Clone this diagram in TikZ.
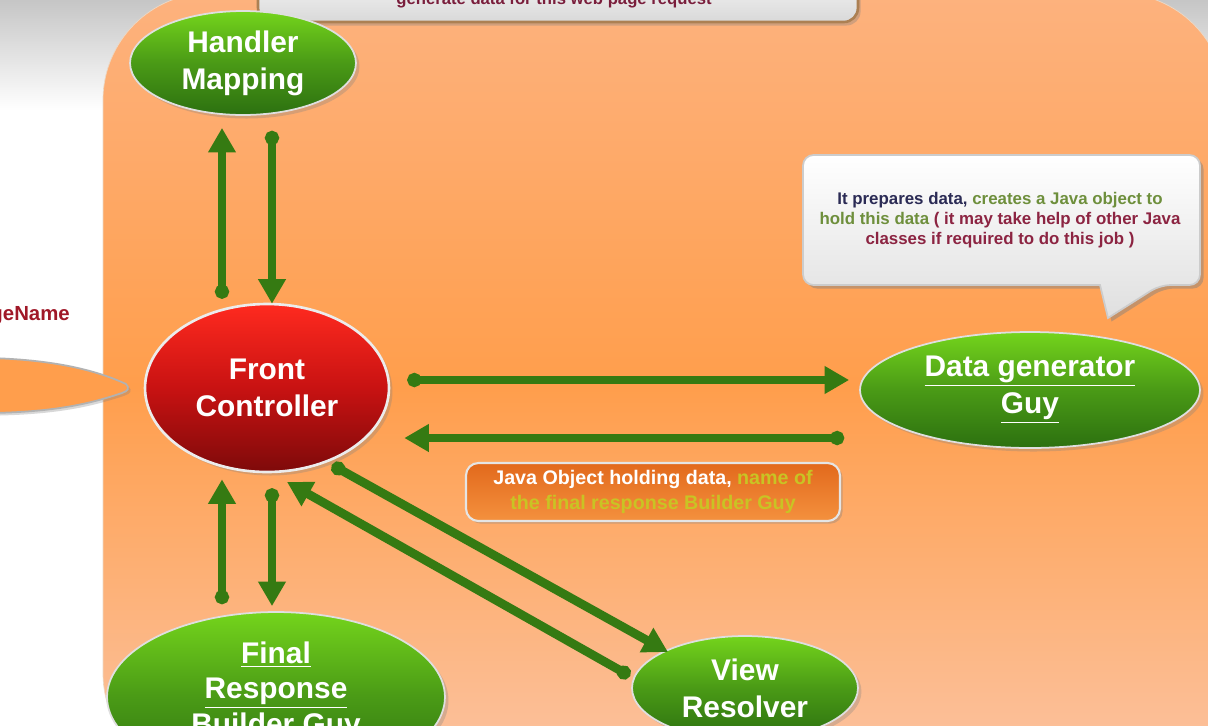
\documentclass[tikz,border=0pt]{standalone}
\usepackage{fontspec}
\setmainfont{Liberation Sans}
\usetikzlibrary{shapes.geometric, arrows.meta, positioning, calc, shadows}
\usepackage{xcolor}
\definecolor{guytop}{HTML}{74D41C}
\definecolor{guymid}{HTML}{4A9A16}
\definecolor{guybot}{HTML}{2C7010}
\definecolor{ctrltop}{HTML}{FF2A1F}
\definecolor{ctrlmid}{HTML}{C81212}
\definecolor{ctrlbot}{HTML}{7E0A0A}
\definecolor{flowgreen}{HTML}{357A12}
\definecolor{paneltop}{HTML}{FDB27E}
\definecolor{panelmid}{HTML}{FF9E4C}
\definecolor{panelbot}{HTML}{FBC4A3}
\definecolor{navytext}{HTML}{2B2B55}
\definecolor{olivetext}{HTML}{6E8F3C}
\definecolor{maroontext}{HTML}{8C2442}
\definecolor{reqtext}{HTML}{7A1E3C}
\definecolor{tagyellow}{HTML}{C9C324}
\definecolor{tagtop}{HTML}{E2691C}
\definecolor{tagbot}{HTML}{F4913E}
\definecolor{pagered}{HTML}{A01828}

\begin{document}
\begin{tikzpicture}[
    x=0.02cm, y=-0.02cm,
    every node/.style={font=\bfseries},
    guy/.style={ellipse, draw=white!75!gray, line width=1pt, inner sep=0pt,
                top color=guytop, bottom color=guybot, middle color=guymid,
                text=white, align=center, font=\fontsize{17}{21}\selectfont\bfseries,
                drop shadow={opacity=0.3, shadow xshift=2pt, shadow yshift=-2pt}},
    ctrl/.style={guy, draw=white!85!gray, line width=1.5pt,
                 top color=ctrltop, bottom color=ctrlbot, middle color=ctrlmid},
    guytxt/.style={text=white, align=center, font=\fontsize{17}{20}\selectfont\bfseries},
    flow/.style={draw=flowgreen, line width=5pt,
                 {Circle[length=8pt]}-{Triangle[length=14pt, width=15pt]}},
    note/.style={align=center, font=\fontsize{9.6}{11.3}\selectfont\bfseries},
    tagbox/.style={draw=white!80!gray, line width=1.2pt, rounded corners=7pt,
                   top color=tagtop, bottom color=tagbot, text=white, align=center,
                   minimum width=7.48cm, minimum height=1.16cm, inner sep=1pt,
                   font=\fontsize{11.2}{14.2}\selectfont\bfseries,
                   drop shadow={opacity=0.35, shadow xshift=1.5pt, shadow yshift=-1.5pt}}
]
    \useasboundingbox (0,0) rectangle (1208,725);
    \clip (0,0) rectangle (1208,725);

    % Backdrop
    \fill[white] (0,0) rectangle (1208,725);
    \shade[top color=gray!45, bottom color=white] (0,0) rectangle (1208,110);
    \shade[top color=paneltop, bottom color=panelbot, middle color=panelmid,
           draw=brown!30, rounded corners=2.14cm] (103,-7) rectangle (1225,780);

    % Request box at the top, cut by the frame
    \node[draw=brown!70!gray, line width=1.5pt, rounded corners=8pt,
          top color=white, bottom color=gray!30, minimum width=12cm, minimum height=1.24cm,
          drop shadow={opacity=0.35, shadow xshift=1.5pt, shadow yshift=-2pt}]
          (req) at (558,-9) {};
    \node[text=reqtext, font=\fontsize{9.5}{11}\selectfont\bfseries, anchor=base]
          (reqtxt) at (554,4) {generate data for this web page request};

    % Incoming pointer from the left
    \fill[panelmid, draw=gray!60, line width=1pt,
          drop shadow={opacity=0.3, shadow xshift=1.5pt, shadow yshift=-1.5pt}]
          (-10,358) .. controls (60,360) and (100,372) .. (126,384)
          .. controls (130,388) and (128,391) .. (122,393)
          .. controls (95,402) and (60,412) .. (-10,413) -- cycle;
    \node[text=pagered, font=\fontsize{11.6}{13}\selectfont\bfseries, anchor=east]
          (page) at (76,316) {geName};

    % Participants
    \node[guy, minimum width=4.52cm, minimum height=2.08cm] (hm) at (243,63) {Handler\\Mapping};
    \node[ctrl, minimum width=4.88cm, minimum height=3.36cm] (fc) at (267,388) {Front\\Controller};
    \node[guy, minimum width=6.8cm, minimum height=2.32cm] (dg) at (1030,390)
          {\underline{Data generator}\\\underline{Guy}};
    \node[guy, minimum width=6.76cm, minimum height=3.4cm] (fr) at (276,697) {};
    \node[guytxt] (frtxt) at (276,693) {\underline{Final}\\\underline{Response}\\\underline{Builder Guy}};
    \node[guy, minimum width=4.52cm, minimum height=2.08cm] (vr) at (745,688) {View\\Resolver};

    % Speech bubble of the data generator
    \shade[top color=white, bottom color=gray!25, draw=gray!40, line width=1pt,
           drop shadow={opacity=0.45, shadow xshift=2pt, shadow yshift=-2pt},
           rounded corners=6pt]
          (803,155) -- (1200,155) -- (1200,285) -- (1160,285) [sharp corners]
          -- (1108,318) -- (1100,285) [rounded corners=6pt] -- (803,285) -- cycle;
    \node[note] (dgnote) at (1000,220)
          {\textcolor{navytext}{It prepares data,} \textcolor{olivetext}{creates a Java object to}\\
           \textcolor{olivetext}{hold this data} \textcolor{maroontext}{( it may take help of other Java}\\
           \textcolor{maroontext}{classes if required to do this job )}};

    % Returned object
    \node[tagbox] (tag) at (653,492)
          {Java Object holding data, \textcolor{tagyellow}{name of}\\
           \textcolor{tagyellow}{the final response Builder Guy}};

    % Request flow
    \draw[flow] ($(fc.north)+(-45,-4)$) -- ($(hm.south)+(-21,12)$);
    \draw[flow] ($(hm.south)+(29,15)$) -- ($(fc.north)+(5,1)$);
    \draw[flow] ($(fc.east)+(17,-8)$) -- ($(dg.west)+(-10,-10)$);
    \draw[flow] ($(dg.west)+(-15,48)$) -- ($(fc.east)+(14,50)$);
    \draw[flow] ($(fr.north)+(-54,-7)$) -- ($(fc.south)+(-45,6)$);
    \draw[flow] ($(fc.south)+(5,15)$) -- ($(fr.north)+(-4,-5)$);
    \draw[flow] ($(fc.center)+(65,77)$) -- ($(vr.center)+(-77,-36)$);
    \draw[flow] ($(vr.center)+(-115,-12)$) -- ($(fc.center)+(20,94)$);
\end{tikzpicture}
\end{document}
